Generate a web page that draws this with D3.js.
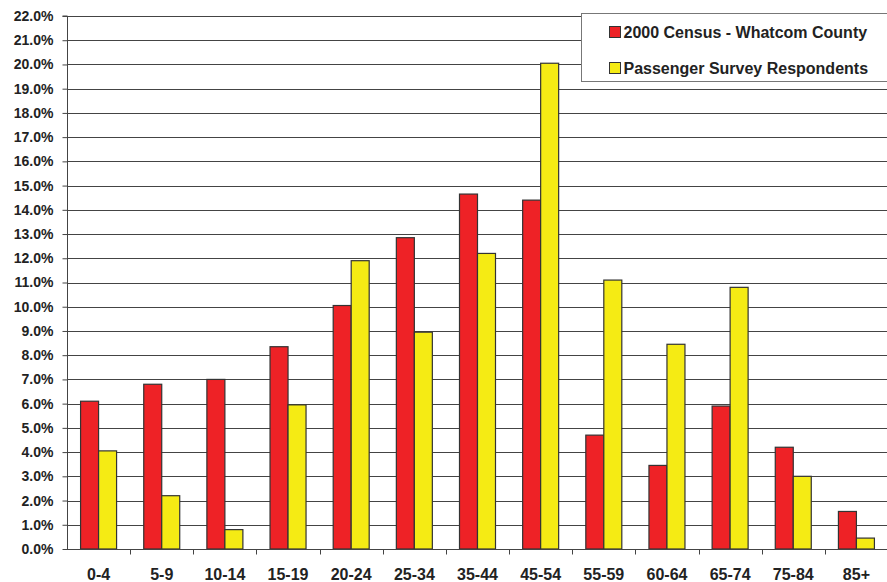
<!DOCTYPE html>
<html><head><meta charset="utf-8">
<script src="https://cdn.jsdelivr.net/npm/d3@7"></script>
<style>body{margin:0;background:#fff}svg{display:block}text{font-family:"Liberation Sans",Arial,sans-serif;font-weight:bold;fill:#222}</style>
</head><body><svg id="c" width="887" height="582"></svg>
<script>
const categories = ["0-4","5-9","10-14","15-19","20-24","25-34","35-44","45-54","55-59","60-64","65-74","75-84","85+"];
const censusValues = [6.1,6.8,7.0,8.35,10.05,12.85,14.65,14.4,4.7,3.45,5.9,4.2,1.55];
const surveyValues = [4.05,2.2,0.8,5.95,11.9,8.95,12.2,20.05,11.1,8.45,10.8,3.0,0.45];
const seriesNames = ["2000 Census - Whatcom County","Passenger Survey Respondents"];
const seriesColors = ["#ee2226","#f5eb14"];
const yTicks = d3.range(0,23,1);

const svg = d3.select("#c");
const mLeft = 67, mRight = 888, mTop = 16, mBottom = 549;
const x = d3.scaleBand().domain(categories).range([mLeft,mRight]).padding(0);
const y = d3.scaleLinear().domain([0,22]).range([mBottom,mTop]);
const barW = 18;

// gridlines
svg.append("g").selectAll("line").data(yTicks.filter(d=>d>0)).join("line")
  .attr("x1",mLeft).attr("x2",887).attr("y1",d=>Math.round(y(d))+0.5).attr("y2",d=>Math.round(y(d))+0.5)
  .attr("stroke","#444").attr("stroke-width",1);

// bars
const series = [censusValues, surveyValues];
series.forEach((vals,si)=>{
  svg.append("g").selectAll("rect").data(categories).join("rect")
    .attr("x",(c)=>x(c)+x.bandwidth()/2 - barW + si*barW)
    .attr("y",(c,i)=>y(vals[i]))
    .attr("width",barW)
    .attr("height",(c,i)=>y(0)-y(vals[i]))
    .attr("fill",seriesColors[si]).attr("stroke","#333").attr("stroke-width",1.2);
});

// y axis
const yAxis = d3.axisLeft(y).tickValues(yTicks).tickSize(5).tickPadding(9).tickFormat(d=>d.toFixed(1)+"%");
const gy = svg.append("g").attr("transform",`translate(${mLeft+0.5},0)`).call(yAxis);
gy.select(".domain").attr("stroke","#444").attr("d",`M-5,${mTop}H0V${mBottom}`);
gy.selectAll(".tick line").attr("stroke","#444");
gy.selectAll("text").style("font-size","14px").attr("fill","#222").style("font-family","Liberation Sans, Arial, sans-serif").style("font-weight","bold");

// x axis
const gx = svg.append("g").attr("transform",`translate(0,${mBottom+0.5})`);
gx.append("line").attr("x1",mLeft).attr("x2",887).attr("stroke","#444");
gx.selectAll("line.t").data(categories).join("line").attr("class","t")
  .attr("x1",c=>Math.round(x(c)+x.bandwidth())+0.5).attr("x2",c=>Math.round(x(c)+x.bandwidth())+0.5)
  .attr("y1",0).attr("y2",5).attr("stroke","#444");
gx.selectAll("text").data(categories).join("text")
  .attr("x",c=>x(c)+x.bandwidth()/2).attr("y",30).attr("text-anchor","middle")
  .style("font-size","16px").text(c=>c);

// legend
const lg = svg.append("g");
lg.append("rect").attr("x",581.5).attr("y",13.5).attr("width",310).attr("height",68)
  .attr("fill","#fff").attr("stroke","#777").attr("stroke-width",1);
seriesNames.forEach((n,i)=>{
  const base = 38 + i*36;
  lg.append("rect").attr("x",609.5).attr("y",base-11.5).attr("width",11).attr("height",11)
    .attr("fill",seriesColors[i]).attr("stroke","#333").attr("stroke-width",1);
  lg.append("text").attr("x",623.5).attr("y",base).style("font-size","16px").text(n);
});
</script></body></html>
